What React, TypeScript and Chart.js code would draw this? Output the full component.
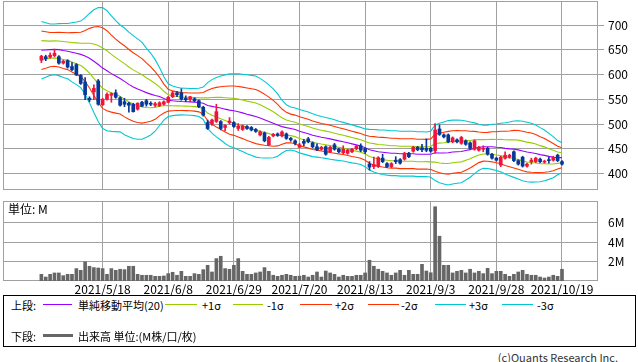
import React, { useEffect, useRef } from "react";
import { Chart, registerables } from "chart.js";

Chart.register(...registerables);

const FONT = '"Noto Sans CJK JP", "Noto Sans", sans-serif';
const GRID = "#a0a0a0";
const UP = "#f0143c";
const DOWN = "#06389a";
const C_SMA = "#9a00ff";
const C_1 = "#99cc00";
const C_2 = "#ff3300";
const C_3 = "#00c8d2";
const C_VOL = "#666666";

// day index of the first candle (2021/5/18 = 0)
const firstDay = -14;
const tickDays = [0, 15, 30, 45, 60, 75, 90, 105];
const tickLabels = ["2021/5/18", "2021/6/8", "2021/6/29", "2021/7/20", "2021/8/13", "2021/9/3", "2021/9/28", "2021/10/19"];
const priceTicks = [400, 450, 500, 550, 600, 650, 700];
const volumeTicks = [2, 4, 6];

const opens = [
  629, 636, 635, 638, 636, 623, 628, 616, 620, 598,
  585, 552, 565, 587, 539, 550, 558, 563, 553, 545,
  542, 540, 530, 544, 547, 542, 538, 537, 540, 544,
  555, 563, 563, 552, 550, 551, 547, 534, 503, 500,
  505, 505, 493, 503, 503, 491, 489, 495, 493, 489,
  478, 482, 458, 476, 480, 476, 480, 471, 466, 453,
  465, 470, 462, 454, 449, 454, 444, 458, 449, 442,
  441, 444, 450, 456, 450, 419, 414, 414, 431, 420,
  414, 427, 428, 429, 441, 445, 453, 452, 451, 451,
  446, 490, 478, 478, 464, 468, 461, 466, 462, 449,
  447, 449, 451, 439, 431, 417, 431, 433, 444, 426,
  433, 415, 424, 424, 429, 423, 428, 427, 437, 424,
];
const highs = [
  639, 639, 644, 651, 638, 629, 630, 624, 622, 600,
  594, 555, 579, 590, 552, 563, 563, 569, 555, 552,
  544, 542, 543, 546, 550, 545, 544, 545, 547, 556,
  566, 566, 571, 557, 556, 553, 549, 536, 508, 510,
  540, 507, 499, 513, 505, 501, 498, 497, 495, 491,
  486, 484, 475, 481, 482, 486, 482, 473, 468, 461,
  469, 473, 464, 460, 455, 456, 455, 461, 451, 456,
  449, 451, 457, 460, 452, 424, 433, 434, 439, 422,
  422, 434, 430, 443, 443, 455, 455, 459, 470, 453,
  501, 498, 480, 480, 474, 470, 475, 468, 464, 468,
  455, 456, 453, 441, 433, 435, 444, 439, 446, 428,
  435, 421, 431, 433, 431, 427, 433, 435, 439, 426,
];
const lows = [
  624, 628, 633, 636, 621, 621, 613, 608, 598, 580,
  549, 545, 549, 538, 537, 548, 544, 552, 536, 535,
  524, 524, 528, 535, 536, 537, 535, 535, 538, 543,
  553, 555, 548, 545, 545, 545, 533, 516, 489, 497,
  503, 488, 486, 500, 493, 487, 487, 489, 486, 483,
  476, 464, 456, 474, 475, 474, 469, 465, 458, 452,
  456, 462, 452, 446, 447, 437, 442, 447, 442, 440,
  439, 442, 448, 444, 440, 407, 410, 412, 422, 412,
  412, 420, 419, 427, 432, 443, 446, 444, 444, 443,
  441, 477, 472, 462, 462, 462, 459, 457, 449, 447,
  445, 444, 437, 429, 425, 414, 429, 431, 424, 417,
  413, 413, 419, 422, 422, 421, 421, 425, 424, 417,
];
const closes = [
  637, 632, 639, 643, 623, 627, 615, 610, 599, 582,
  559, 549, 572, 540, 550, 560, 561, 554, 538, 540,
  538, 525, 542, 536, 540, 540, 541, 543, 545, 554,
  563, 559, 550, 549, 555, 547, 535, 518, 491, 508,
  525, 491, 497, 506, 495, 496, 496, 491, 488, 485,
  484, 466, 473, 479, 477, 484, 471, 468, 461, 458,
  461, 464, 454, 448, 453, 439, 453, 449, 444, 449,
  447, 449, 455, 447, 444, 413, 418, 432, 424, 414,
  420, 424, 421, 441, 434, 453, 448, 448, 447, 445,
  488, 479, 474, 464, 472, 464, 473, 459, 451, 466,
  453, 451, 439, 431, 427, 433, 437, 437, 426, 419,
  415, 419, 427, 431, 424, 425, 426, 433, 426, 419,
];
// volume in millions
const volumes = [
  0.69, 0.41, 0.69, 0.83, 0.83, 0.55, 0.69, 0.69, 1.28, 1.1,
  1.97, 1.52, 1.38, 1.34, 1.28, 0.69, 1.28, 1.1, 1.21, 1.17,
  1.52, 1.52, 0.69, 0.59, 0.59, 0.59, 0.48, 0.48, 0.52, 0.76,
  0.9, 0.59, 1.0, 0.48, 0.48, 0.76, 0.69, 1.17, 1.62, 0.93,
  2.31, 2.55, 1.28, 1.21, 1.62, 2.31, 1.0, 0.69, 0.69, 0.83,
  0.93, 1.38, 1.0, 0.59, 0.48, 0.59, 0.69, 0.59, 0.48, 0.5,
  0.59, 0.41, 0.59, 0.93, 0.41, 1.03, 0.83, 0.69, 0.41, 0.59,
  0.48, 0.48, 0.59, 0.59, 0.83, 2.14, 1.52, 1.21, 1.0, 0.83,
  0.59, 0.83, 1.1, 0.59, 1.1, 0.69, 0.69, 1.72, 1.03, 0.85,
  7.66, 4.62, 1.62, 1.62, 0.83, 1.0, 1.1, 0.83, 1.21, 0.83,
  1.0, 0.76, 1.31, 0.76, 1.0, 1.0, 0.69, 0.48, 0.69, 0.93,
  1.1, 0.69, 0.59, 0.59, 0.41, 0.31, 0.41, 0.59, 0.48, 1.21,
];
const sma20 = [
  649.0, 649.5, 650.2, 650.8, 650.2, 648.5, 647.1, 644.9, 642.8, 640.7,
  637.4, 633.0, 626.9, 620.2, 613.0, 607.7, 601.8, 596.8, 592.1, 586.2,
  580.1, 574.7, 570.5, 567.0, 563.4, 560.4, 557.7, 555.5, 551.5, 548.1,
  546.9, 546.1, 545.4, 545.1, 544.8, 544.3, 543.6, 541.9, 537.5, 535.7,
  534.0, 532.3, 530.0, 528.1, 526.9, 524.7, 522.5, 519.7, 517.5, 515.0,
  512.1, 508.7, 505.2, 501.5, 497.8, 494.7, 492.7, 491.0, 489.0, 485.5,
  483.0, 480.5, 477.4, 475.4, 473.4, 471.9, 470.0, 468.0, 466.0, 464.3,
  462.1, 459.9, 457.9, 455.7, 452.0, 448.0, 446.0, 444.0, 443.0, 442.0,
  441.0, 441.0, 440.0, 440.0, 440.0, 440.0, 439.0, 439.0, 439.0, 439.0,
  441.8, 441.4, 441.4, 441.8, 443.4, 444.1, 444.5, 446.5, 448.2, 451.0,
  453.0, 454.0, 454.0, 454.0, 453.0, 452.5, 450.8, 449.8, 449.2, 447.8,
  445.5, 443.4, 442.1, 440.4, 438.1, 436.7, 434.7, 433.0, 432.0, 432.0,
];
const sigma20 = [
  19.4, 18.4, 17.3, 17.1, 17.5, 18.2, 18.6, 19.9, 21.1, 22.4,
  25.8, 30.1, 34.6, 38.4, 40.7, 40.4, 38.9, 37.4, 36.0, 35.9,
  35.2, 34.6, 33.8, 32.6, 30.0, 27.5, 24.1, 19.5, 14.6, 11.0,
  10.0, 9.4, 9.0, 9.0, 9.0, 9.1, 9.5, 10.9, 15.4, 18.0,
  20.0, 21.5, 23.1, 24.4, 24.9, 25.5, 26.0, 26.6, 26.9, 27.3,
  26.7, 25.8, 24.6, 23.2, 21.0, 17.8, 15.4, 14.5, 14.5, 14.6,
  14.6, 14.6, 14.4, 14.1, 13.9, 13.8, 13.7, 13.5, 13.2, 13.0,
  12.9, 12.8, 12.6, 12.5, 12.7, 13.7, 14.3, 14.7, 15.0, 15.1,
  15.1, 15.1, 15.1, 15.1, 15.1, 15.1, 15.1, 15.1, 15.0, 15.5,
  18.7, 20.0, 20.9, 21.7, 21.5, 21.3, 21.0, 19.9, 18.6, 17.1,
  15.5, 14.5, 14.6, 15.2, 15.7, 16.4, 17.3, 18.1, 19.0, 19.6,
  20.0, 20.0, 19.8, 19.2, 18.2, 17.1, 15.5, 13.8, 11.5, 10.1,
];

const X_MIN = -22.77;
const X_MAX = 113.23;

const framePlugin = {
  id: "frame",
  beforeDatasetsDraw(chart: any) {
    const { ctx, chartArea: a } = chart;
    ctx.save();
    ctx.strokeStyle = GRID;
    ctx.lineWidth = 1;
    ctx.strokeRect(a.left + 0.5, a.top + 0.5, a.right - a.left - 1, a.bottom - a.top - 1);
    ctx.restore();
  },
};

function xAxis(showLabels: boolean) {
  return {
    type: "linear",
    min: X_MIN,
    max: X_MAX,
    offset: false,
    afterBuildTicks: (s: any) => {
      s.ticks = tickDays.map((value) => ({ value }));
    },
    grid: { color: GRID, lineWidth: 1, drawTicks: false, offset: false },
    border: { display: false },
    ticks: {
      display: showLabels,
      autoSkip: false,
      maxRotation: 0,
      padding: 1,
      color: "#000",
      font: { family: FONT, size: 12 },
      callback: (_v: any, i: number) => tickLabels[i] ?? "",
    },
    afterFit: (s: any) => {
      s.height = showLabels ? 14 : 0;
      s.paddingLeft = 0;
      s.paddingRight = 0;
    },
  };
}

export default function App() {
  const priceRef = useRef<HTMLCanvasElement>(null);
  const volRef = useRef<HTMLCanvasElement>(null);

  useEffect(() => {
    const days = closes.map((_, i) => firstDay + i);
    const colors = days.map((_, i) => (closes[i] >= opens[i] ? UP : DOWN));
    const band = (k: number) => days.map((d, i) => ({ x: d, y: sma20[i] + k * sigma20[i] }));
    const line = (k: number, color: string) => ({
      type: "line",
      data: band(k),
      borderColor: color,
      borderWidth: 1.1,
      pointRadius: 0,
      tension: 0,
      order: 3,
    });

    const price = new Chart(priceRef.current!, {
      type: "bar",
      data: {
        datasets: [
          line(3, C_3) as any,
          line(-3, C_3) as any,
          line(2, C_2) as any,
          line(-2, C_2) as any,
          line(1, C_1) as any,
          line(-1, C_1) as any,
          line(0, C_SMA) as any,
          {
            type: "bar",
            data: days.map((d, i) => ({ x: d, y: [lows[i], highs[i]] })),
            backgroundColor: colors,
            barThickness: 1,
            grouped: false,
            order: 2,
          },
          {
            type: "bar",
            data: days.map((d, i) => ({ x: d, y: [opens[i], closes[i]] })),
            backgroundColor: colors,
            barThickness: 3,
            minBarLength: 1,
            grouped: false,
            order: 1,
          },
        ],
      },
      options: {
        responsive: false,
        animation: false,
        devicePixelRatio: 1,
        layout: { padding: { left: 3, top: 1, right: 0, bottom: 5 } },
        plugins: { legend: { display: false }, tooltip: { enabled: false } },
        scales: {
          x: xAxis(false) as any,
          y: {
            type: "linear",
            position: "right",
            min: 366.7,
            max: 748.5,
            afterBuildTicks: (s: any) => {
              s.ticks = priceTicks.map((value) => ({ value }));
            },
            grid: { color: GRID, lineWidth: 1, drawTicks: true, tickLength: 6 },
            border: { display: false },
            ticks: { padding: 4, color: "#000", font: { family: FONT, size: 12 } },
            afterFit: (s: any) => {
              s.width = 40;
              s.paddingTop = 0;
              s.paddingBottom = 0;
            },
          } as any,
        },
      },
      plugins: [framePlugin],
    });

    const vol = new Chart(volRef.current!, {
      type: "bar",
      data: {
        datasets: [
          {
            data: days.map((d, i) => ({ x: d, y: volumes[i] })),
            backgroundColor: C_VOL,
            barThickness: 3,
          } as any,
        ],
      },
      options: {
        responsive: false,
        animation: false,
        devicePixelRatio: 1,
        layout: { padding: { left: 3, top: 6, right: 0, bottom: 0 } },
        plugins: { legend: { display: false }, tooltip: { enabled: false } },
        scales: {
          x: xAxis(true) as any,
          y: {
            type: "linear",
            position: "right",
            min: 0,
            max: 8.25,
            afterBuildTicks: (s: any) => {
              s.ticks = volumeTicks.map((value) => ({ value }));
            },
            grid: { color: GRID, lineWidth: 1, drawTicks: false },
            border: { display: false },
            ticks: {
              padding: 10,
              color: "#000",
              font: { family: FONT, size: 12 },
              callback: (v: any) => `${v}M`,
            },
            afterFit: (s: any) => {
              s.width = 40;
              s.paddingTop = 0;
              s.paddingBottom = 0;
            },
          } as any,
        },
      },
      plugins: [framePlugin],
    });

    return () => {
      price.destroy();
      vol.destroy();
    };
  }, []);

  const text = (left: number, top: number, s: string, size = 11) => (
    <div style={{ position: "absolute", left, top, fontSize: size, lineHeight: "14px", whiteSpace: "nowrap" }}>{s}</div>
  );
  const seg = (left: number, top: number, width: number, color: string, h = 1.3) => (
    <div style={{ position: "absolute", left, top, width, height: h, background: color }} />
  );

  const r1 = 297.5;
  const l1 = 303.6;
  const r2 = 328.7;
  return (
    <div
      style={{
        position: "absolute",
        left: 0,
        top: 0,
        width: 638,
        height: 362,
        background: "#fff",
        fontFamily: FONT,
        color: "#000",
        overflow: "hidden",
      }}
    >
      <canvas ref={priceRef} width={638} height={195} style={{ position: "absolute", left: 0, top: 0, width: 638, height: 195 }} />
      <canvas ref={volRef} width={638} height={100} style={{ position: "absolute", left: 0, top: 195, width: 638, height: 100 }} />
      {text(8, 202, "単位: M", 12)}
      <div
        style={{
          position: "absolute",
          left: 3,
          top: 295,
          width: 633,
          height: 52,
          border: "1px solid #000",
          boxSizing: "border-box",
        }}
      />
      {text(11, r1, "上段:")}
      {seg(43, l1, 29, C_SMA)}
      {text(78, r1, "単純移動平均(20)")}
      {seg(165, l1, 32, C_1)}
      {text(202, r1, "+1σ")}
      {seg(233, l1, 30, C_1)}
      {text(267, r1, "-1σ")}
      {seg(300, l1, 32, C_2)}
      {text(335, r1, "+2σ")}
      {seg(368, l1, 31, C_2)}
      {text(401, r1, "-2σ")}
      {seg(435, l1, 31, C_3)}
      {text(469, r1, "+3σ")}
      {seg(502, l1, 31, C_3)}
      {text(537, r1, "-3σ")}
      {text(11, r2, "下段:")}
      {seg(43, 334.2, 30, C_VOL, 3)}
      {text(78, r2, "出来高 単位:(M株/口/枚)")}
      <div
        style={{
          position: "absolute",
          right: 20,
          top: 351,
          fontSize: 11,
          lineHeight: "13px",
          color: "#333",
          whiteSpace: "nowrap",
        }}
      >
        (c)Quants Research Inc.
      </div>
    </div>
  );
}
